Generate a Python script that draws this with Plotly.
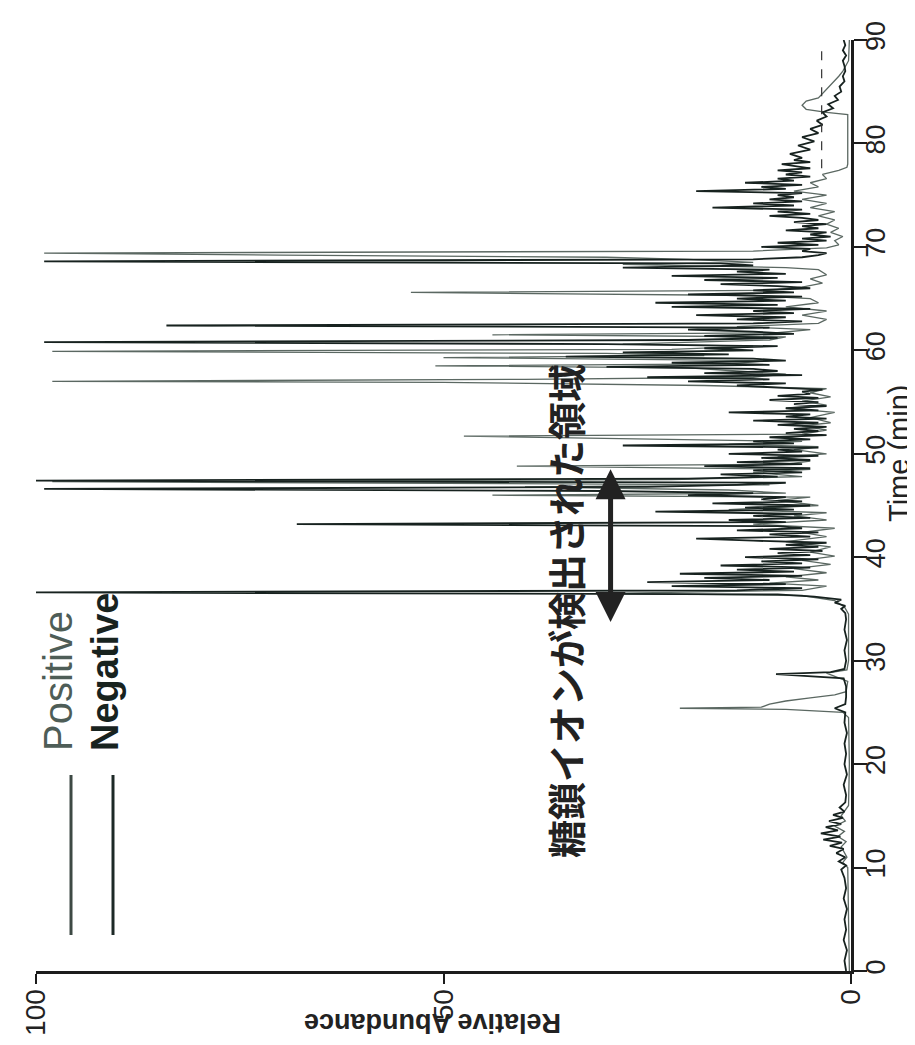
import plotly.graph_objects as go

# ---------------- data ----------------
neg_time = [
    0.0, 1.0, 2.0, 3.0, 4.0, 5.0, 6.0, 7.0, 8.0, 9.0,
    9.8, 10.2, 10.6, 11.0, 11.4, 11.8, 12.1, 12.4, 12.7, 13.0,
    13.3, 13.6, 13.9, 14.2, 14.5, 14.8, 15.1, 15.4, 15.8, 16.3,
    17.0, 18.0, 19.0, 20.0, 21.0, 22.0, 23.0, 24.0, 25.0, 25.4,
    25.8, 26.5, 27.5, 28.3, 28.7, 28.9, 29.2, 30.0, 31.0, 32.0,
    33.0, 34.0, 34.6, 35.0, 35.3, 35.6, 35.9, 36.2, 36.4, 36.6,
    36.8, 37.0, 37.2, 37.4, 37.6, 37.8, 38.0, 38.2, 38.4, 38.6,
    38.8, 39.0, 39.2, 39.4, 39.6, 39.8, 40.0, 40.2, 40.4, 40.6,
    40.8, 41.0, 41.2, 41.4, 41.6, 41.8, 42.0, 42.2, 42.4, 42.6,
    42.8, 43.0, 43.2, 43.4, 43.6, 43.8, 44.0, 44.2, 44.4, 44.6,
    44.8, 45.0, 45.2, 45.4, 45.6, 45.8, 46.0, 46.2, 46.4, 46.6,
    46.8, 47.0, 47.2, 47.4, 47.6, 47.8, 48.0, 48.2, 48.4, 48.6,
    48.8, 49.0, 49.2, 49.4, 49.6, 49.8, 50.0, 50.2, 50.4, 50.6,
    50.8, 51.0, 51.2, 51.4, 51.6, 51.8, 52.0, 52.2, 52.4, 52.6,
    52.8, 53.0, 53.2, 53.4, 53.6, 53.8, 54.0, 54.2, 54.4, 54.6,
    54.8, 55.0, 55.2, 55.4, 55.6, 55.8, 56.0, 56.2, 56.4, 56.6,
    56.8, 57.0, 57.2, 57.4, 57.6, 57.8, 58.0, 58.2, 58.4, 58.6,
    58.8, 59.0, 59.2, 59.4, 59.6, 59.8, 60.0, 60.2, 60.4, 60.6,
    60.8, 61.0, 61.2, 61.4, 61.6, 61.8, 62.0, 62.2, 62.4, 62.6,
    62.8, 63.0, 63.2, 63.4, 63.6, 63.8, 64.0, 64.2, 64.4, 64.6,
    64.8, 65.0, 65.2, 65.4, 65.6, 65.8, 66.0, 66.2, 66.4, 66.6,
    66.8, 67.0, 67.2, 67.4, 67.6, 67.8, 68.0, 68.2, 68.4, 68.6,
    68.8, 69.0, 69.2, 69.4, 69.6, 69.8, 70.0, 70.2, 70.4, 70.6,
    70.8, 71.0, 71.2, 71.4, 71.6, 71.8, 72.0, 72.2, 72.4, 72.6,
    72.8, 73.0, 73.2, 73.4, 73.6, 73.8, 74.0, 74.2, 74.4, 74.6,
    74.8, 75.0, 75.2, 75.4, 75.6, 75.8, 76.0, 76.2, 76.4, 76.6,
    76.8, 77.0, 77.2, 77.4, 77.6, 77.8, 78.0, 78.2, 78.4, 78.6,
    79.0, 79.4, 79.8, 80.2, 80.6, 81.0, 81.4, 81.8, 82.2, 82.6,
    83.0, 83.4, 83.8, 84.2, 84.6, 85.0, 85.5, 86.0, 86.5, 87.0,
    87.5, 88.0, 88.5, 89.0, 89.5, 90.0,
]
neg_abund = [
    0.6, 0.8, 0.5, 0.9, 0.6, 0.8, 0.5, 0.9, 0.6, 0.8,
    1.2, 0.6, 1.5, 0.7, 1.8, 0.9, 2.6, 1.1, 3.4, 1.3,
    3.7, 1.6, 3.1, 1.2, 2.7, 1.0, 2.2, 0.8, 1.4, 0.7,
    0.6, 0.9, 0.5, 0.8, 0.6, 0.8, 0.5, 0.8, 0.7, 2.0,
    0.7, 0.6, 0.6, 0.9, 9.2, 2.5, 0.8, 0.6, 0.8, 0.5,
    0.8, 0.6, 0.7, 1.2, 0.7, 2.0, 1.2, 4.5, 9.0, 100,
    14, 6, 22, 8, 25, 10, 18, 6, 21, 7,
    14, 5, 16, 6, 11, 4, 13, 5, 9, 3.5,
    10, 4, 8, 3, 12, 19, 5, 10, 4, 14,
    6, 9, 68, 8, 15, 5, 12, 6, 24, 7,
    13, 5, 17, 6, 11, 8, 20, 12, 30, 99,
    25, 14, 8, 100, 20, 9, 16, 6, 12, 5,
    18, 6, 14, 5, 11, 4, 15, 6, 9, 4,
    28, 7, 12, 5, 10, 3, 8, 4, 7, 3,
    9, 4, 12, 3, 8, 5, 15, 4, 8, 3,
    7, 4, 10, 4, 9, 5, 6, 3.5, 9, 14,
    8, 20, 10, 25, 6, 18, 9, 12, 30, 10,
    22, 8, 12, 35, 15, 28, 12, 18, 9, 30,
    99, 20, 9, 18, 7, 12, 20, 10, 84, 12,
    6, 14, 8, 19, 7, 12, 5, 22, 9, 24,
    8, 14, 6, 20, 7, 12, 5, 9, 16, 6,
    18, 9, 22, 8, 14, 10, 28, 12, 16, 99,
    12, 6, 4, 3, 6, 5, 11, 4, 9, 3,
    6, 2.5, 5, 3, 8, 4, 6, 3, 7, 4,
    6, 10, 5, 9, 6, 17, 7, 12, 6, 10,
    7, 9, 6, 19, 8, 11, 6, 13, 7, 9,
    5, 8, 6, 9, 5, 7, 8.5, 5, 7, 6,
    7.5, 5, 6.5, 4.5, 6, 4, 5, 3.5, 4.2, 3,
    3.5, 2.2, 2.8, 1.6, 2.0, 1.2, 1.4, 0.8, 1.0, 0.7,
    0.8, 1.0, 0.6, 1.0, 0.7, 0.9,
]

pos_time = [
    0.0, 5.0, 10.0, 10.5, 11.0, 12.0, 12.5, 13.0, 13.5, 14.0,
    14.5, 15.0, 16.0, 20.0, 24.5, 25.0, 25.3, 25.4, 25.5, 25.8,
    26.1, 26.4, 26.7, 27.0, 28.0, 28.8, 29.1, 30.0, 34.5, 35.2,
    35.8, 36.3, 36.5, 36.8, 37.2, 37.5, 37.8, 38.1, 38.5, 38.9,
    39.3, 39.7, 40.1, 40.5, 41.0, 41.5, 42.0, 42.4, 42.8, 43.2,
    43.6, 44.0, 44.3, 44.6, 45.0, 45.5, 45.8, 46.0, 46.2, 46.5,
    46.8, 47.0, 47.3, 47.5, 47.8, 48.2, 48.5, 48.8, 49.0, 49.3,
    49.7, 50.0, 50.4, 50.7, 50.9, 51.2, 51.7, 51.9, 52.3, 52.7,
    53.0, 53.5, 54.0, 54.4, 54.7, 55.1, 55.5, 55.9, 56.3, 56.6,
    56.9, 57.0, 57.2, 57.4, 57.7, 58.0, 58.3, 58.5, 58.7, 59.0,
    59.3, 59.5, 59.7, 59.9, 60.1, 60.4, 60.6, 61.0, 61.3, 61.5,
    61.7, 62.0, 62.3, 62.6, 63.0, 63.4, 63.8, 64.2, 64.6, 65.0,
    65.3, 65.6, 65.8, 66.1, 66.5, 66.9, 67.3, 67.8, 68.0, 68.3,
    68.5, 68.8, 69.0, 69.2, 69.4, 69.6, 69.9, 70.2, 70.6, 71.0,
    71.4, 71.8, 72.2, 72.6, 73.0, 73.4, 73.8, 74.2, 74.6, 75.0,
    75.4, 75.8, 76.2, 76.6, 77.0, 77.4, 77.7, 78.0, 82.8, 83.0,
    83.3, 83.7, 84.1, 84.4, 84.8, 85.2, 85.6, 86.0, 86.5, 87.0,
    87.5, 88.0, 90.0,
]
pos_abund = [
    0.2, 0.3, 0.4, 1.0, 0.5, 1.2, 0.6, 1.6, 0.8, 2.0,
    0.7, 1.2, 0.3, 0.2, 0.3, 1.0, 8, 21, 11, 10,
    8, 5, 2, 0.6, 0.4, 3, 0.5, 0.3, 0.3, 0.8,
    2, 6, 30, 6, 3, 10, 4, 8, 3, 7,
    2.5, 6, 2, 5, 2.5, 8, 3, 6, 2, 12,
    3, 7, 3, 15, 4, 9, 5, 44, 8, 15,
    40, 10, 98, 22, 6, 12, 5, 41, 8, 5,
    9, 3, 7, 4, 15, 6, 47.5, 6, 3, 6,
    2.5, 5, 2, 8, 3, 6, 2.5, 5, 3, 18,
    50, 98, 40, 12, 8, 14, 20, 51, 15, 10,
    50, 18, 30, 98, 22, 12, 28, 10, 8, 44,
    9, 5, 14, 4, 3, 6, 3, 8, 4, 5,
    12, 54, 10, 6, 3.5, 5, 3, 4, 8, 28,
    12, 20, 30, 70, 99, 12, 3, 1.5, 2, 1,
    2.5, 1.5, 3, 2, 4, 2, 5, 3, 6, 3,
    7, 4, 5, 3, 3.5, 1.5, 0.5, 0.4, 0.4, 3,
    5.5, 6, 5.5, 4, 3.5, 3, 2.5, 2, 1.5, 1,
    0.6, 0.3, 0.2,
]

dash_time = [77.6, 89.2]
dash_abund = [3.6, 3.6]

time_ticks = [0, 10, 20, 30, 40, 50, 60, 70, 80, 90]
abund_ticks = [0, 50, 100]
series_names = ["Positive", "Negative"]
annotation_text = "糖鎖イオンが検出された領域"
arrow_abund = 29.5
arrow_time = [33.6, 48.5]

# ---------------- figure ----------------
W, H = 915, 1045
ML, MR, MT, MB = 28, 72, 32, 82
pw, ph = W - ML - MR, H - MT - MB


def px(xp):
    return (xp - ML) / pw


def py(yp):
    return (H - MB - yp) / ph


FONT = "Liberation Sans, Arial, sans-serif"
POS_COLOR = "#5b6862"
NEG_COLOR = "#17221f"

fig = go.Figure()
fig.add_trace(go.Scatter(x=pos_abund, y=pos_time, mode="lines", name=series_names[0],
                         line=dict(color=POS_COLOR, width=1.3), showlegend=False))
fig.add_trace(go.Scatter(x=neg_abund, y=neg_time, mode="lines", name=series_names[1],
                         line=dict(color=NEG_COLOR, width=1.8), showlegend=False))
fig.add_trace(go.Scatter(x=dash_abund, y=dash_time, mode="lines",
                         line=dict(color="#333333", width=1.2, dash="dash"), showlegend=False))

axis_common = dict(showgrid=False, zeroline=False, showline=True, linewidth=3,
                   linecolor="#1c1c1c", ticks="outside", tickwidth=2, tickcolor="#1c1c1c",
                   automargin=False, tickangle=-90)

fig.update_layout(
    width=W, height=H,
    margin=dict(l=ML, r=MR, t=MT, b=MB, autoexpand=False),
    paper_bgcolor="white", plot_bgcolor="white",
    xaxis=dict(range=[100, 0], tickvals=abund_ticks, ticklen=10,
               ticklabelstandoff=-6, tickfont=dict(family=FONT, size=28, color="#222222"),
               **axis_common),
    yaxis=dict(range=[0, 90], side="right", tickvals=time_ticks, ticklen=13,
               ticklabelstandoff=-14, tickfont=dict(family=FONT, size=27, color="#222222"),
               **axis_common),
    showlegend=False,
)

annotations = [
    dict(text="<b>Relative Abundance</b>", x=px(425), y=py(1032), xref="paper", yref="paper",
         showarrow=False, textangle=180, font=dict(family=FONT, size=27, color="#222222")),
    dict(text="Time (min)", x=px(909), y=py(446), xref="paper", yref="paper",
         showarrow=False, textangle=-90, font=dict(family=FONT, size=29, color="#222222")),
    dict(text=series_names[0], x=px(50), y=py(745), xref="paper", yref="paper",
         xanchor="center", yanchor="bottom",
         showarrow=False, textangle=-90, font=dict(family=FONT, size=40, color="#4e5d57")),
    dict(text="<b>" + series_names[1] + "</b>", x=px(97), y=py(745), xref="paper", yref="paper",
         xanchor="center", yanchor="bottom",
         showarrow=False, textangle=-90, font=dict(family=FONT, size=38, color="#18231f")),
    dict(text="<b>" + annotation_text + "</b>", x=px(556), y=py(603), xref="paper", yref="paper",
         showarrow=False, textangle=-90,
         font=dict(family="Noto Sans CJK JP", size=38, color="#222222")),
    dict(text="", x=arrow_abund, y=arrow_time[1], ax=arrow_abund, ay=arrow_time[0],
         xref="x", yref="y", axref="x", ayref="y", showarrow=True,
         arrowhead=2, startarrowhead=2, arrowside="end+start", arrowwidth=5,
         arrowsize=1.2, startarrowsize=1.2, arrowcolor="#222222"),
]
fig.update_layout(annotations=annotations)

shapes = [
    dict(type="line", xref="paper", yref="paper", x0=px(63), x1=px(63), y0=py(767), y1=py(927),
         line=dict(color="#3d4944", width=3)),
    dict(type="line", xref="paper", yref="paper", x0=px(105), x1=px(105), y0=py(767), y1=py(927),
         line=dict(color="#1d2926", width=3)),
]
fig.update_layout(shapes=shapes)

fig.write_html("out.html")
